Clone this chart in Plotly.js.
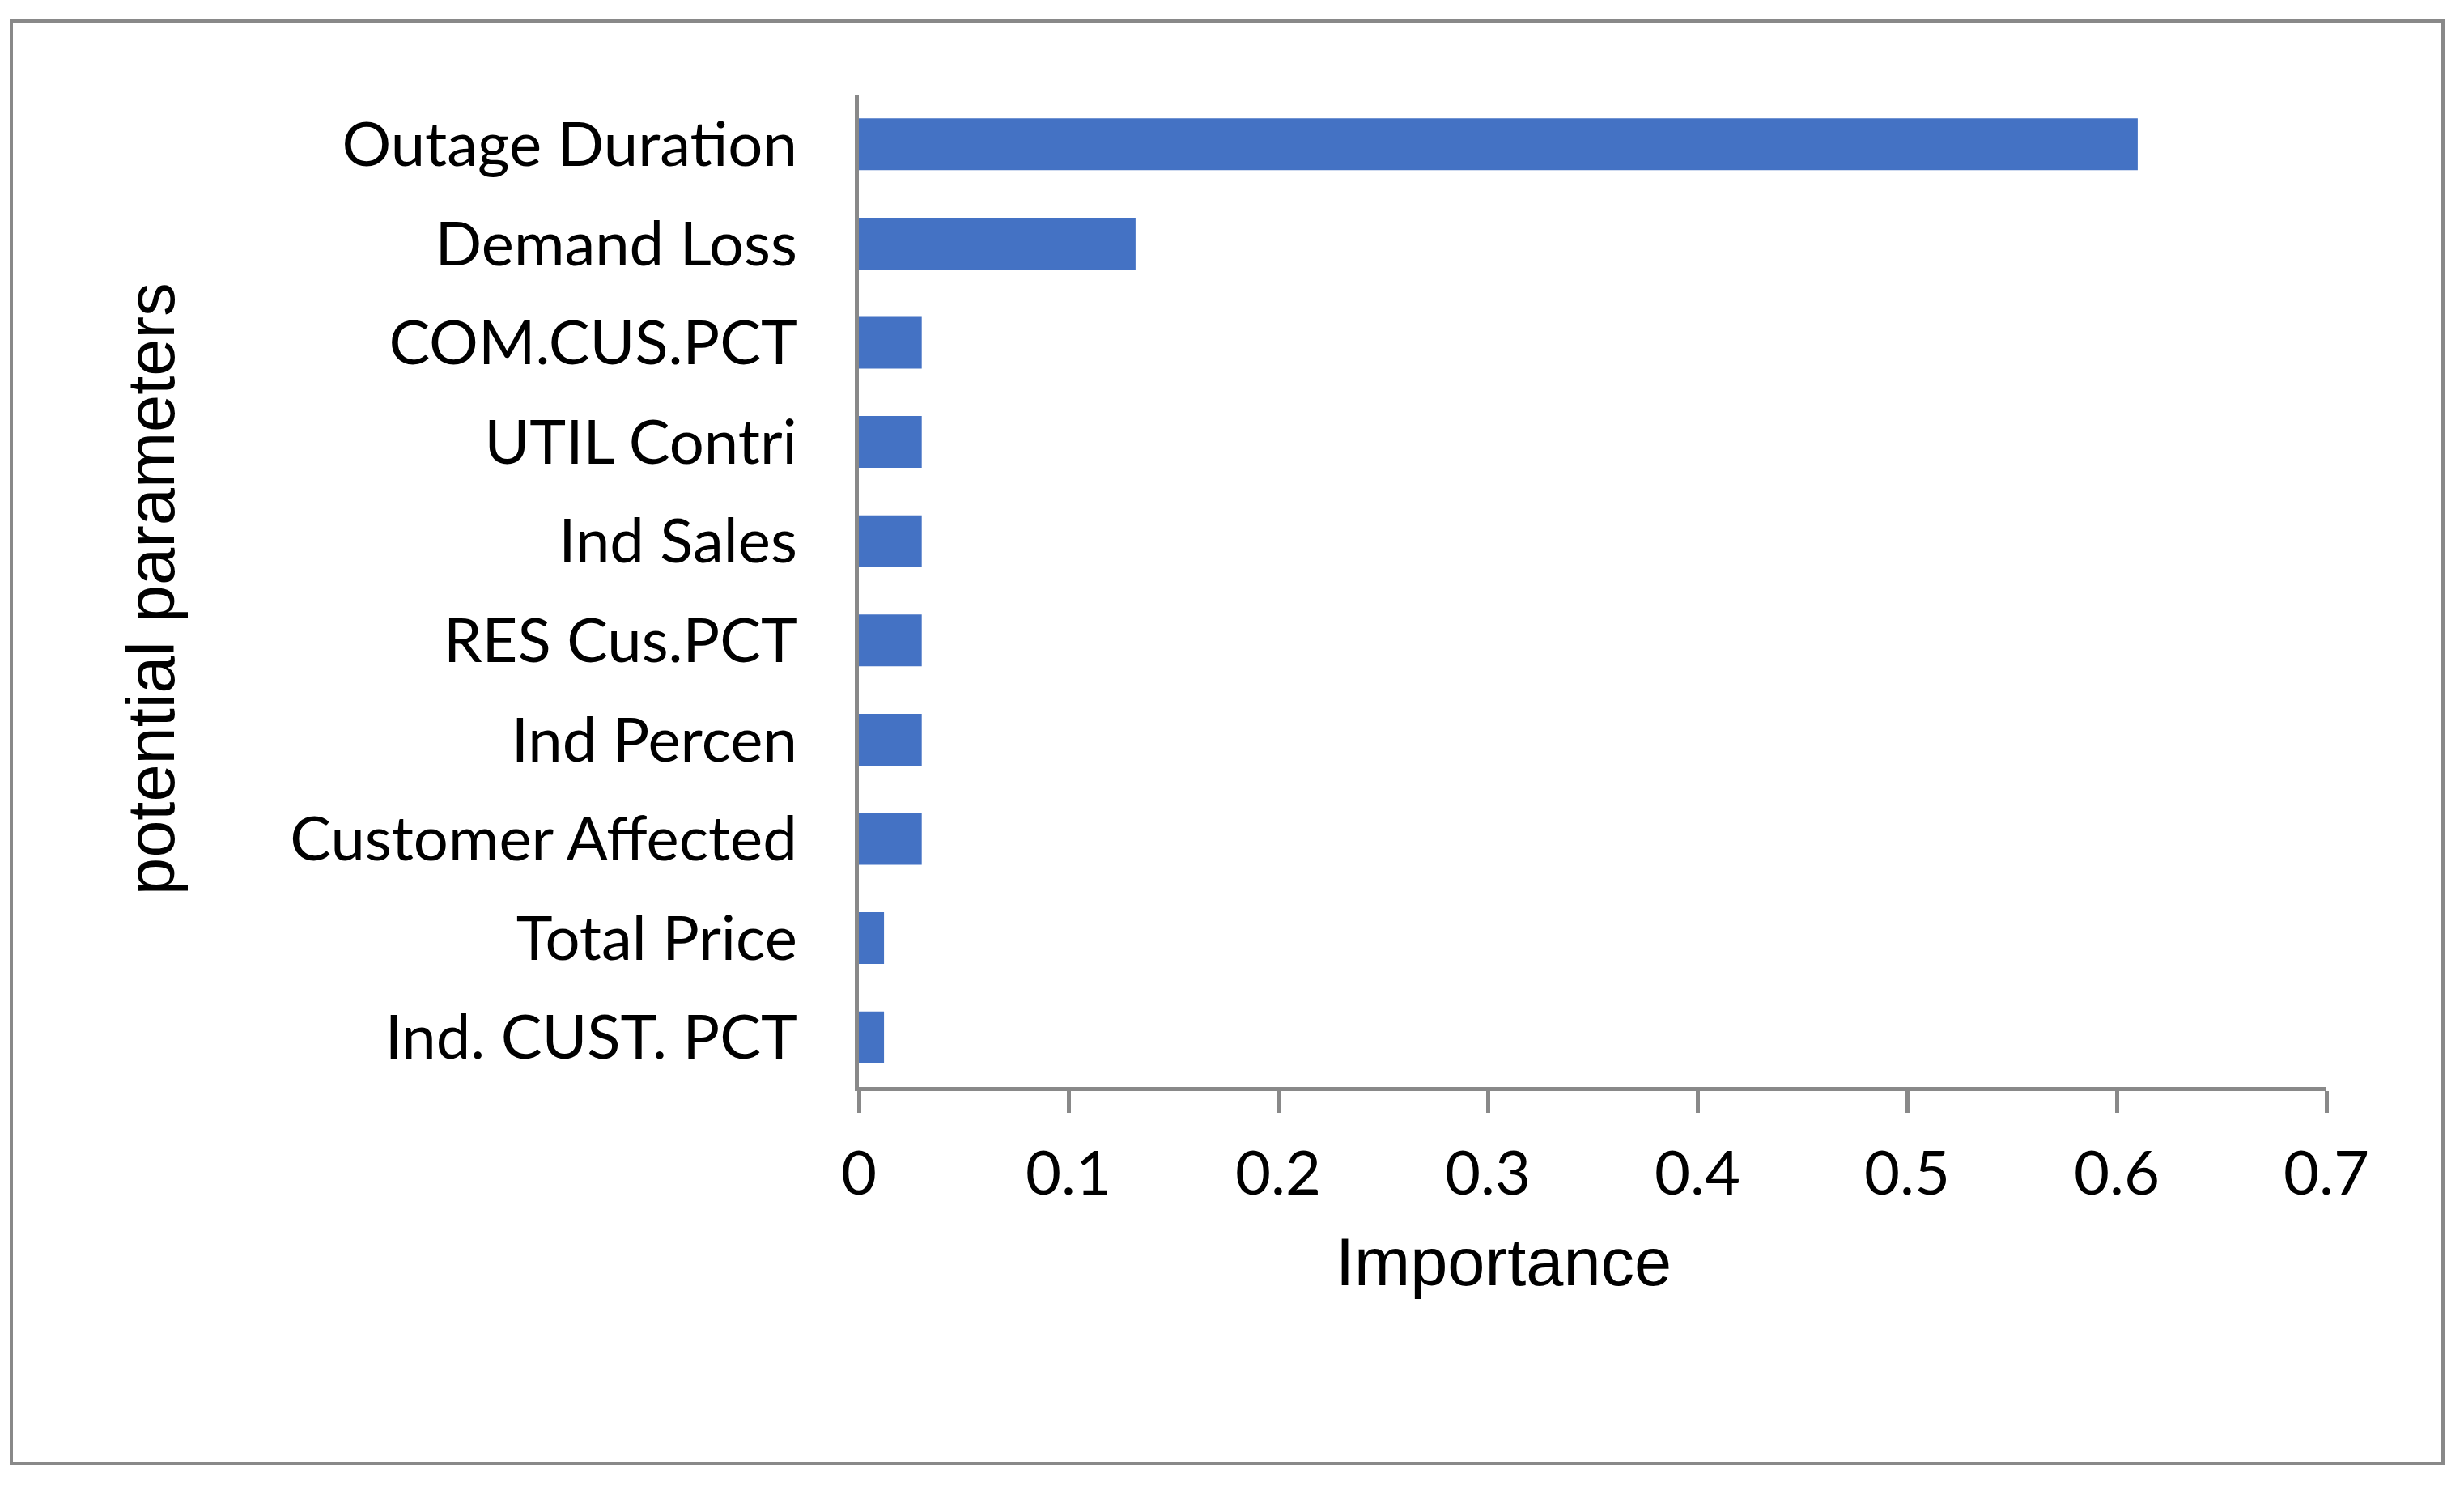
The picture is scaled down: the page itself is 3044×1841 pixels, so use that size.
<!DOCTYPE html>
<html>
<head>
<meta charset="utf-8">
<script src="https://cdn.plot.ly/plotly-3.0.1.min.js"></script>
<style>
html,body{margin:0;padding:0;background:#fff;}
#chart{width:3044px;height:1841px;}
</style>
</head>
<body>
<div id="chart"></div>
<script>
// Data (top-to-bottom order as shown)
const categories = ["Outage Duration","Demand Loss","COM.CUS.PCT","UTIL Contri","Ind Sales","RES Cus.PCT","Ind Percen","Customer Affected","Total Price","Ind. CUST. PCT"];
const importance = [0.61, 0.132, 0.03, 0.03, 0.03, 0.03, 0.03, 0.03, 0.012, 0.012];
const xTickValues = [0, 0.1, 0.2, 0.3, 0.4, 0.5, 0.6, 0.7];
const xTickLabels = ["0","0.1","0.2","0.3","0.4","0.5","0.6","0.7"];
const xTitle = "Importance";
const yTitle = "potential parameters";

const W = 3044, H = 1841;
const L = 1061, R = 170, T = 117, B = 498;
const pw = W - L - R, ph = H - T - B;
const px = v => (v - L) / pw;
const py = v => (H - B - v) / ph;
const grey = "#898989";

const trace = {
  type: "bar",
  orientation: "h",
  y: categories,
  x: importance,
  marker: {color: "#4472C4"},
  hoverinfo: "x+y"
};

const layout = {
  width: W, height: H,
  margin: {l: L, r: R, t: T, b: B, pad: 0},
  paper_bgcolor: "#fff",
  plot_bgcolor: "#fff",
  showlegend: false,
  bargap: 0.478,
  xaxis: {
    range: [0, 0.7],
    tickvals: xTickValues,
    ticktext: xTickLabels,
    showgrid: false,
    zeroline: false,
    showline: true,
    linecolor: grey,
    linewidth: 5,
    ticks: "outside",
    ticklen: 27,
    tickwidth: 5,
    tickcolor: grey,
    ticklabelstandoff: 10,
    tickfont: {family: "Lato, 'Open Sans', sans-serif", size: 76, color: "#000"}
  },
  yaxis: {
    type: "category",
    autorange: "reversed",
    showgrid: false,
    zeroline: false,
    showline: true,
    linecolor: grey,
    linewidth: 5,
    ticks: "",
    ticklabelstandoff: 56,
    tickfont: {family: "Lato, 'Open Sans', sans-serif", size: 76, color: "#000"}
  },
  annotations: [
    {text: xTitle, xref: "paper", yref: "paper", x: px(1857), y: py(1559),
     xanchor: "center", yanchor: "middle", showarrow: false,
     font: {family: "'Liberation Sans', Arial, sans-serif", size: 83, color: "#000"}},
    {text: yTitle, xref: "paper", yref: "paper", x: px(186), y: py(728),
     xanchor: "center", yanchor: "middle", showarrow: false, textangle: -90,
     font: {family: "'Liberation Sans', Arial, sans-serif", size: 83, color: "#000"}}
  ],
  shapes: [
    {type: "rect", xref: "paper", yref: "paper",
     x0: px(14), x1: px(3018), y0: py(1808), y1: py(26),
     line: {color: grey, width: 4}, fillcolor: "rgba(0,0,0,0)", layer: "below"}
  ]
};

Plotly.newPlot("chart", [trace], layout, {displayModeBar: false, staticPlot: true});
</script>
</body>
</html>
